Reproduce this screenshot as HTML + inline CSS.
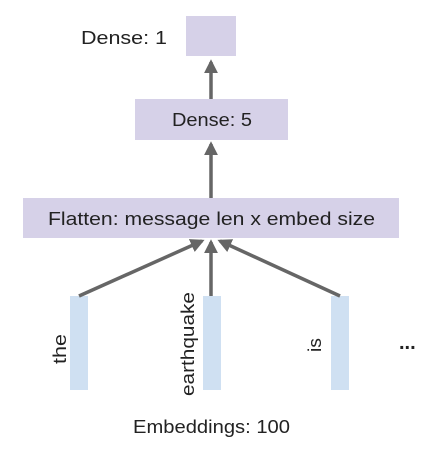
<!DOCTYPE html>
<html><head><meta charset="utf-8"><style>body{margin:0;background:#fff}svg{display:block}</style></head>
<body>
<svg width="442" height="462" viewBox="0 0 442 462" xmlns="http://www.w3.org/2000/svg" font-family="Liberation Sans, sans-serif" fill="#222">
<defs><marker id="a" markerWidth="4" markerHeight="4" refX="3.2" refY="2" orient="auto" markerUnits="strokeWidth"><path d="M0,0 L4,2 L0,4 z" fill="#666"/></marker></defs>
<rect x="186" y="16" width="50" height="40" fill="#d6d1e8"/>
<rect x="135" y="99" width="153" height="41" fill="#d6d1e8"/>
<rect x="23" y="198" width="376" height="40" fill="#d6d1e8"/>
<rect x="70" y="296" width="18" height="94" fill="#cfe0f2"/>
<rect x="203" y="296" width="18" height="94" fill="#cfe0f2"/>
<rect x="331" y="296" width="18" height="94" fill="#cfe0f2"/>
<g stroke="#666" stroke-width="3.5" fill="none">
<line x1="211" y1="99" x2="211" y2="62" marker-end="url(#a)"/>
<line x1="211" y1="198" x2="211" y2="144" marker-end="url(#a)"/>
<line x1="211" y1="296" x2="211" y2="242" marker-end="url(#a)"/>
<line x1="79" y1="296" x2="202" y2="241" marker-end="url(#a)"/>
<line x1="340" y1="296" x2="220" y2="241" marker-end="url(#a)"/>
</g>
<text x="81" y="44" font-size="18" textLength="86" lengthAdjust="spacingAndGlyphs">Dense: 1</text>
<text x="172" y="126" font-size="18" textLength="80" lengthAdjust="spacingAndGlyphs">Dense: 5</text>
<text x="48" y="225" font-size="18" textLength="327" lengthAdjust="spacingAndGlyphs">Flatten: message len x embed size</text>
<text transform="translate(66,364) rotate(-90)" font-size="18" textLength="30" lengthAdjust="spacingAndGlyphs">the</text>
<text transform="translate(194,396) rotate(-90)" font-size="18" textLength="104" lengthAdjust="spacingAndGlyphs">earthquake</text>
<text transform="translate(321,352) rotate(-90)" font-size="18" textLength="14" lengthAdjust="spacingAndGlyphs">is</text>
<text x="399" y="349" font-size="20" font-weight="bold">...</text>
<text x="133" y="433" font-size="18" textLength="157" lengthAdjust="spacingAndGlyphs">Embeddings: 100</text>
</svg>
</body></html>
